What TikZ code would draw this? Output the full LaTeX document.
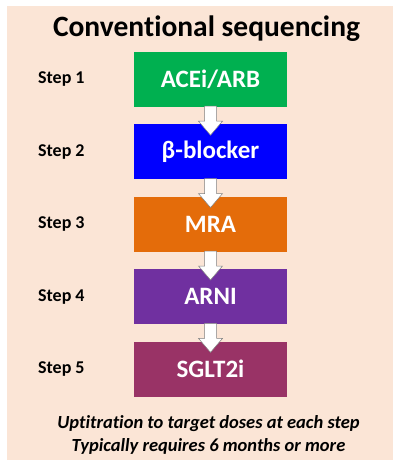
\documentclass[tikz,border=0pt]{standalone}
\usepackage{fontspec}
\setmainfont[Ligatures=NoCommon]{Carlito}
\usepackage{tikz}
\usetikzlibrary{positioning,calc}

\definecolor{peach}{HTML}{FBE5D6}
\definecolor{drugA}{HTML}{00B050}
\definecolor{drugB}{HTML}{0000FF}
\definecolor{drugC}{HTML}{E46C0A}
\definecolor{drugD}{HTML}{7030A0}
\definecolor{drugE}{HTML}{993366}

% white block arrow from one drug box down to the next
\newcommand{\steparrow}[2]{%
\draw [stepshaft] ($(#1.south)+(-6,1)$) -- ($(#2.north)+(-6,3)$) -- ($(#2.north)+(-12,3)$)
 -- ($(#2.north)+(0,-11)$) -- ($(#2.north)+(12,3)$) -- ($(#2.north)+(6,3)$)
 -- ($(#1.south)+(6,1)$) -- cycle;}

\begin{document}
\begin{tikzpicture}[x=1pt,y=1pt,node distance=17pt,
drug/.style={
% The shape:
rectangle,
% The size:
minimum width=153pt,minimum height=55pt,
% The filling:
draw=none,
% Font
text=white,font=\fontsize{25}{30}\selectfont\bfseries
},
steplabel/.style={
rectangle,inner sep=0pt,
font=\fontsize{18}{22}\selectfont\bfseries},
stepshaft/.style={fill=white,draw=black!50,line width=0.5pt,line join=miter}]

\useasboundingbox (0,0) rectangle (396,-460);
\fill [peach] (7,-6) rectangle (393,-460);

\node (title) [anchor=base, inner sep=0pt, font=\fontsize{29.5}{35}\selectfont\bfseries] at (206.5,-37) {Conventional sequencing};

\node (acei) [drug, fill=drugA] at (210.5,-79.5) {ACEi/ARB};
\node (beta) [drug, fill=drugB, below=of acei] {β-blocker};
\node (mra) [drug, fill=drugC, below=of beta] {MRA};
\node (arni) [drug, fill=drugD, below=of mra] {ARNI};
\node (sglt) [drug, fill=drugE, below=of arni] {SGLT2i};

\node (s1) [steplabel, left=49pt of acei] {Step 1};
\node (s2) [steplabel, left=49pt of beta] {Step 2};
\node (s3) [steplabel, left=49pt of mra] {Step 3};
\node (s4) [steplabel, left=49pt of arni] {Step 4};
\node (s5) [steplabel, left=49pt of sglt] {Step 5};

\steparrow{acei}{beta}
\steparrow{beta}{mra}
\steparrow{mra}{arni}
\steparrow{arni}{sglt}

\node (note) [anchor=base, inner sep=0pt, align=center, font=\fontsize{18.5}{22.5}\selectfont\bfseries\itshape] at (208.5,-451)
{Uptitration to target doses at each step\\Typically requires 6 months or more};
\end{tikzpicture}
\end{document}
